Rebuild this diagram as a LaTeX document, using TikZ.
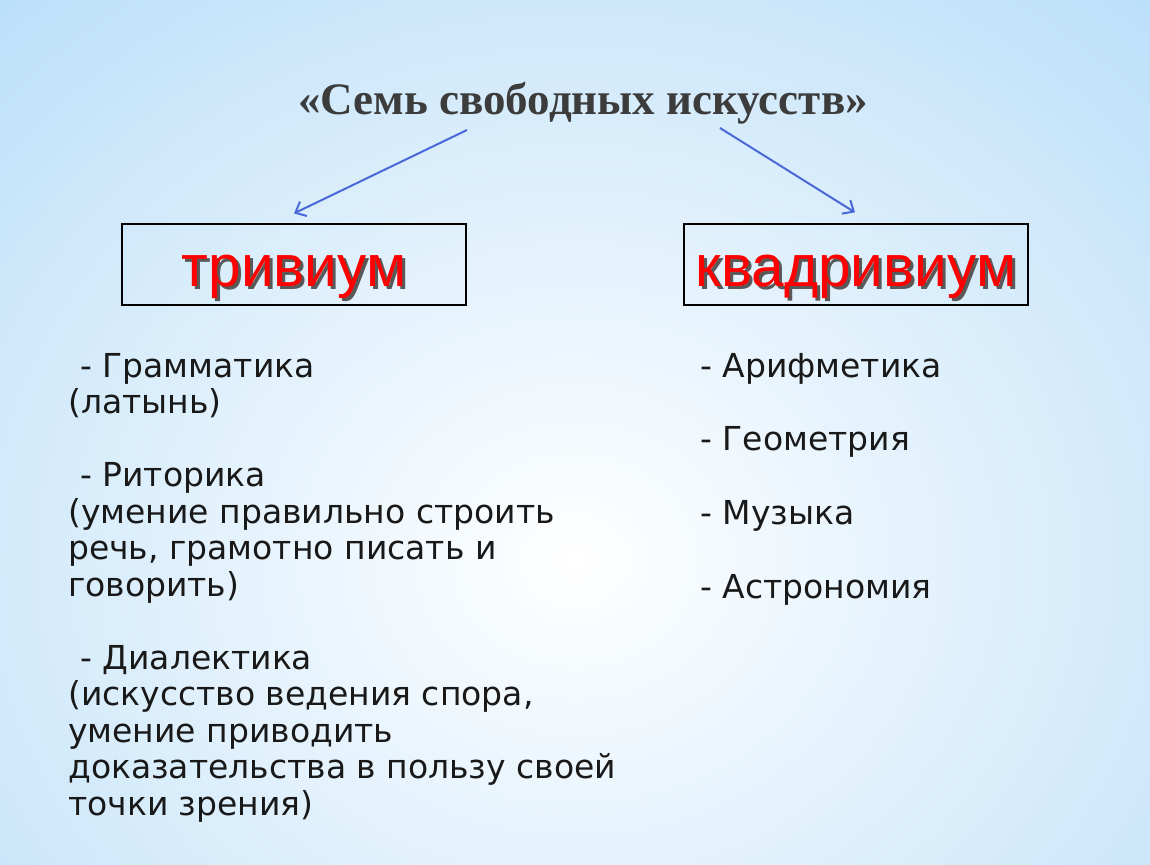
\documentclass[tikz,border=0pt]{standalone}
\usepackage{fontspec}
\setmainfont{Liberation Serif}
\setsansfont{DejaVu Sans}
\newfontfamily\labelfont{Liberation Sans}
\usetikzlibrary{arrows.meta}

\definecolor{skyblue}{HTML}{A2D3F6}
\definecolor{titlegray}{HTML}{3C3C3C}
\definecolor{arrowblue}{HTML}{4A68D8}
\definecolor{labelred}{HTML}{FF0000}

\newcommand{\shadowed}[1]{\makebox[0pt][l]{\hspace{3pt}\raisebox{-3pt}{\color{black!65}#1}}#1}

\tikzset{
  box/.style={draw=black, line width=1.2pt, minimum width=344pt, minimum height=81pt,
    inner sep=0pt, text height=50pt, text depth=7pt,
    font=\labelfont\fontsize{58.5}{60}\selectfont, text=labelred},
  link/.style={draw=arrowblue, line width=2pt, -{Straight Barb[length=9pt,width=16pt]}},
  item/.style={anchor=base west, align=left, inner sep=0pt, text=black!90,
    font=\sffamily\fontsize{33}{36.5}\selectfont},
}

\begin{document}
\begin{tikzpicture}[x=1pt, y=-1pt]
\useasboundingbox (0,0) rectangle (1150,864);
% background
\fill[skyblue] (0,0) rectangle (1150,864);
\begin{scope}
  \clip (0,0) rectangle (1150,864);
  \shade[inner color=white, outer color=skyblue] (575,560) ellipse (1200 and 1050);
\end{scope}

\node (title) [font=\bfseries\fontsize{45}{48}\selectfont, text=titlegray] at (583,103) {«Семь свободных искусств»};

\node (triv) [box] at (294,264.5) {\shadowed{тривиум}};
\node (quad) [box] at (856,264.5) {\shadowed{квадривиум}};

\coordinate (from1) at (467,130);
\coordinate (from2) at (720,128);
\draw[link] (from1) -- ([yshift=10pt]triv.north);
\draw[link] (from2) -- ([yshift=11pt,xshift=-1pt]quad.north);

% trivium (anchored at the baseline of the last line)
\node (gram) [item] at (68,413.5) {\hspace*{12pt}- Грамматика\\(латынь)};
\node (rhet) [item] at (68,596) {\hspace*{12pt}- Риторика\\(умение правильно строить\\речь, грамотно писать и\\говорить)};
\node (dial) [item] at (68,815) {\hspace*{12pt}- Диалектика\\(искусство ведения спора,\\умение приводить\\доказательства в пользу своей\\точки зрения)};

% quadrivium
\node (arith) [item] at (700,377) {- Арифметика};
\node (geom) [item] at (700,450) {- Геометрия};
\node (music) [item] at (700,524) {- Музыка};
\node (astro) [item] at (700,598) {- Астрономия};
\end{tikzpicture}
\end{document}
